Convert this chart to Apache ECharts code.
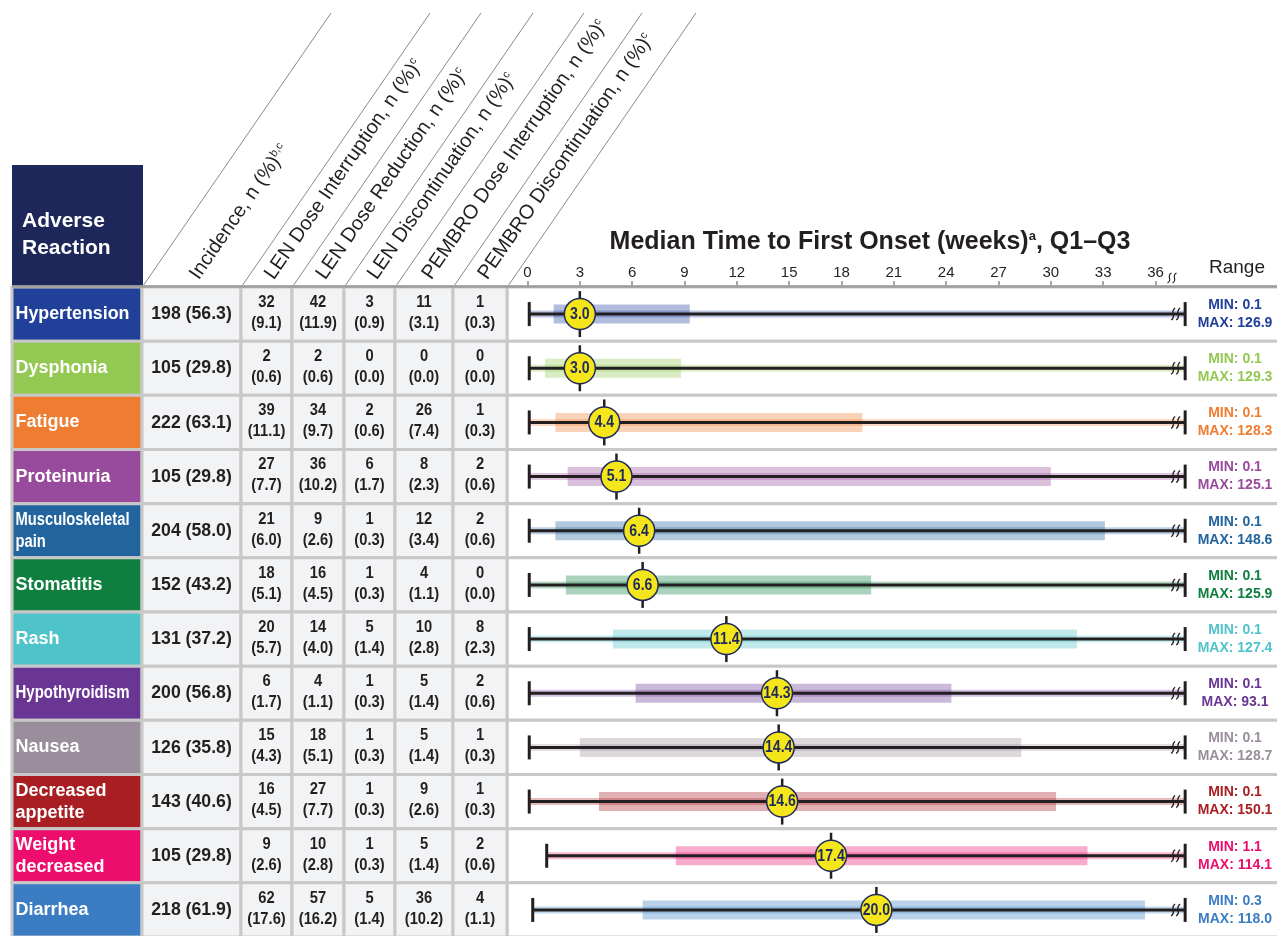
<!DOCTYPE html>
<html><head><meta charset="utf-8">
<script src="https://cdn.jsdelivr.net/npm/echarts@6/dist/echarts.min.js"></script>
<style>html,body{margin:0;padding:0;background:#fff}#c{width:1277px;height:936px}</style>
</head><body><div id="c"></div>
<script>
// ---------------- DATA ----------------
const categories = ['Hypertension','Dysphonia','Fatigue','Proteinuria','Musculoskeletal\npain','Stomatitis','Rash','Hypothyroidism','Nausea','Decreased\nappetite','Weight\ndecreased','Diarrhea'];
const incidenceN = [198,105,222,105,204,152,131,200,126,143,105,218];
const incidencePct = [56.3,29.8,63.1,29.8,58.0,43.2,37.2,56.8,35.8,40.6,29.8,61.9];
const lenInterruptN = [32,2,39,27,21,18,20,6,15,16,9,62];
const lenInterruptPct = [9.1,0.6,11.1,7.7,6.0,5.1,5.7,1.7,4.3,4.5,2.6,17.6];
const lenReductionN = [42,2,34,36,9,16,14,4,18,27,10,57];
const lenReductionPct = [11.9,0.6,9.7,10.2,2.6,4.5,4.0,1.1,5.1,7.7,2.8,16.2];
const lenDiscN = [3,0,2,6,1,1,5,1,1,1,1,5];
const lenDiscPct = [0.9,0.0,0.6,1.7,0.3,0.3,1.4,0.3,0.3,0.3,0.3,1.4];
const pembroInterruptN = [11,0,26,8,12,4,10,5,5,9,5,36];
const pembroInterruptPct = [3.1,0.0,7.4,2.3,3.4,1.1,2.8,1.4,1.4,2.6,1.4,10.2];
const pembroDiscN = [1,0,1,2,2,0,8,2,1,1,2,4];
const pembroDiscPct = [0.3,0.0,0.3,0.6,0.6,0.0,2.3,0.6,0.3,0.3,0.6,1.1];
const medianWeeks = [3.0,3.0,4.4,5.1,6.4,6.6,11.4,14.3,14.4,14.6,17.4,20.0];
const q1Weeks = [1.5,1.0,1.6,2.3,1.6,2.2,4.9,6.2,3.0,4.1,8.5,6.6];
const q3Weeks = [9.3,8.8,19.2,30.0,33.1,19.7,31.5,24.3,28.3,30.3,32.1,35.4];
const rangeMin = [0.1,0.1,0.1,0.1,0.1,0.1,0.1,0.1,0.1,0.1,1.1,0.3];
const rangeMax = [126.9,129.3,128.3,125.1,148.6,125.9,127.4,93.1,128.7,150.1,114.1,118.0];
const columnHeaders = ['Incidence, n (%)','LEN Dose Interruption, n (%)','LEN Dose Reduction, n (%)','LEN Discontinuation, n (%)','PEMBRO Dose Interruption, n (%)','PEMBRO Discontinuation, n (%)'];
const columnHeaderNotes = ['b,c','c','c','c','c','c'];
const axisMaxWeeks = 36;
const axisStepWeeks = 3;
const brokenAxisEnd = 37.7; // position on the broken axis where the range (max) is drawn

// ---------------- STYLE / LAYOUT ----------------
const FONT = "'Liberation Sans', Arial, Helvetica, sans-serif";
const rowColors = ['#21409a','#93c852','#ef7d31','#984a9c','#21649e','#0e7f3e','#4fc3ca','#6a3694','#9a8e9c','#a81e22','#ec0d6d','#3a7dc3'];
const COLS = [12, 142, 241, 292, 344, 395, 453, 507];
const INK = '#231f20';
const NAVY = '#1f2a5c';

const mctx = document.createElement('canvas').getContext('2d');
function fitScale(text, font, maxW) {
  mctx.font = font;
  const w = Math.max(...text.split('\n').map(s => mctx.measureText(s).width));
  return Math.min(1, maxW / w);
}
function rgba(hex, a) {
  const n = parseInt(hex.slice(1), 16);
  return `rgba(${(n >> 16) & 255},${(n >> 8) & 255},${n & 255},${a})`;
}
function txt(x, y, text, o) {
  return Object.assign({ type: 'text', x: x, y: y, style: Object.assign({
    text: text, fill: INK, fontFamily: FONT, align: 'center', verticalAlign: 'middle',
    textAlign: 'center', textVerticalAlign: 'middle'
  }, o.style || {}) }, o.el || {});
}

const cellCols = [
  [lenInterruptN, lenInterruptPct],
  [lenReductionN, lenReductionPct],
  [lenDiscN, lenDiscPct],
  [pembroInterruptN, pembroInterruptPct],
  [pembroDiscN, pembroDiscPct]
];

function renderTable(params, api) {
  const i = params.dataIndex;
  const cy = api.coord([0, i])[1];
  const band = api.size([0, 1])[1];
  const top = cy - band / 2;
  const ch = [];
  const border = { stroke: '#c8c8c8', lineWidth: 3 };
  ch.push({ type: 'rect', shape: { x: COLS[7], y: top, width: 1290 - COLS[7], height: band }, style: Object.assign({ fill: '#ffffff' }, border) });
  ch.push({ type: 'rect', shape: { x: COLS[0], y: top, width: COLS[1] - COLS[0], height: band }, style: Object.assign({ fill: rowColors[i] }, border) });
  for (let j = 1; j < 7; j++) {
    ch.push({ type: 'rect', shape: { x: COLS[j], y: top, width: COLS[j + 1] - COLS[j], height: band }, style: Object.assign({ fill: '#f2f3f5' }, border) });
  }
  const lf = `bold 18px ${FONT}`;
  const ls = fitScale(categories[i], lf, 114);
  ch.push(txt(COLS[0] + 3.5, cy, categories[i], {
    style: { fill: '#ffffff', fontSize: 18, fontWeight: 'bold', lineHeight: 22, align: 'left', textAlign: 'left' },
    el: { scaleX: ls }
  }));
  ch.push(txt((COLS[1] + COLS[2]) / 2, cy, `${incidenceN[i]} (${incidencePct[i].toFixed(1)})`, {
    style: { fontSize: 19, fontWeight: 'bold' }, el: { scaleX: 0.93 }
  }));
  cellCols.forEach((c, k) => {
    const j = k + 2;
    ch.push(txt((COLS[j] + COLS[j + 1]) / 2, cy - 1, `${c[0][i]}\n(${c[1][i].toFixed(1)})`, {
      style: { fontSize: 16, fontWeight: 'bold', lineHeight: 21 }, el: { scaleX: 0.92 }
    }));
  });
  ch.push(txt(1235, cy, `MIN: ${rangeMin[i].toFixed(1)}\nMAX: ${rangeMax[i].toFixed(1)}`, {
    style: { fontSize: 14, fontWeight: 'bold', lineHeight: 18, fill: rowColors[i] }
  }));
  return { type: 'group', children: ch };
}

function breakMark(x, cy, h, lw) {
  const out = [];
  for (let k = 0; k < 2; k++) {
    const bx = x + k * 5;
    out.push({ type: 'bezierCurve', shape: {
      x1: bx + 2, y1: cy - h / 2, x2: bx - 2, y2: cy + h / 2,
      cpx1: bx - 4, cpy1: cy - h / 6, cpx2: bx + 4, cpy2: cy + h / 6
    }, style: { stroke: INK, lineWidth: lw, fill: null } });
  }
  return out;
}

function renderRange(params, api) {
  const i = params.dataIndex;
  const cy = api.coord([0, i])[1];
  const band = api.size([0, 1])[1];
  const x0 = api.coord([rangeMin[i], i])[0];
  const xE = api.coord([brokenAxisEnd, i])[0];
  const xq1 = api.coord([q1Weeks[i], i])[0];
  const xq3 = api.coord([q3Weeks[i], i])[0];
  const xm = api.coord([medianWeeks[i], i])[0];
  const col = rowColors[i];
  const ch = [
    { type: 'line', shape: { x1: x0, y1: cy, x2: xE, y2: cy }, style: { stroke: rgba(col, 0.3), lineWidth: 7 } },
    { type: 'rect', shape: { x: xq1, y: cy - 9.5, width: xq3 - xq1, height: 19 }, style: { fill: rgba(col, 0.35) } },
    { type: 'line', shape: { x1: x0, y1: cy, x2: xE, y2: cy }, style: { stroke: INK, lineWidth: 3 } },
    { type: 'line', shape: { x1: x0, y1: cy - 12, x2: x0, y2: cy + 12 }, style: { stroke: INK, lineWidth: 3 } },
    { type: 'line', shape: { x1: xE, y1: cy - 12, x2: xE, y2: cy + 12 }, style: { stroke: INK, lineWidth: 3 } },
    { type: 'line', shape: { x1: xm, y1: cy - 23, x2: xm, y2: cy + 23 }, style: { stroke: INK, lineWidth: 2.5 } }
  ].concat(breakMark(xE - 12, cy, 12, 1.3));
  if (i === 0) {
    const xa = api.coord([axisMaxWeeks, i])[0];
    ch.push.apply(ch, breakMark(xa + 14, cy - band / 2 - 9, 10, 1.1));
  }
  return { type: 'group', children: ch };
}

function renderMedianLabel(params, api) {
  const i = params.dataIndex;
  const p = api.coord([medianWeeks[i], i]);
  return txt(p[0], p[1] + 0.5, medianWeeks[i].toFixed(1), {
    style: { fontSize: 16, fontWeight: 'bold', fill: NAVY }, el: { scaleX: 0.88 }
  });
}

// ---------------- HEADER GRAPHICS ----------------
const ANG = Math.atan2(273, 188);
const graphics = [
  { type: 'rect', shape: { x: 12, y: 165, width: 131, height: 121 }, style: { fill: '#1e2759' } },
  { type: 'text', x: 22, y: 235, style: { text: 'Adverse\nReaction', fill: '#ffffff', fontSize: 21, fontWeight: 'bold', fontFamily: FONT, lineHeight: 27, align: 'left', verticalAlign: 'middle' } },
  { type: 'text', x: 870, y: 242, style: {
      text: 'Median Time to First Onset (weeks){sup|a}, Q1–Q3', fill: INK, fontSize: 25, fontWeight: 'bold', fontFamily: FONT,
      align: 'center', verticalAlign: 'middle',
      rich: { sup: { fontSize: 13, fontWeight: 'bold', fontFamily: FONT, fill: INK, verticalAlign: 'top' } } } },
  { type: 'text', x: 1237, y: 268, style: { text: 'Range', fill: INK, fontSize: 19, fontFamily: FONT, align: 'center', verticalAlign: 'middle' } }
];
for (let j = 1; j < COLS.length; j++) {
  graphics.push({ type: 'line', shape: { x1: COLS[j] + 1, y1: 286, x2: COLS[j] + 189, y2: 13 }, style: { stroke: '#8a8a8a', lineWidth: 1 } });
}
columnHeaders.forEach((h, k) => {
  const j = k + 1;
  graphics.push({ type: 'text', x: (COLS[j] + COLS[j + 1]) / 2 + 11, y: 283, rotation: ANG, style: {
    text: `${h}{sup|${columnHeaderNotes[k]}}`, fill: INK, fontSize: 20, fontFamily: FONT, align: 'left', verticalAlign: 'bottom',
    rich: { sup: { fontSize: 11, fontFamily: FONT, fill: INK, verticalAlign: 'top' } } } });
});
graphics.push({ type: 'line', z: 100, shape: { x1: 12, y1: 286.5, x2: 1277, y2: 286.5 }, style: { stroke: '#9d9d9d', lineWidth: 2.5 } });

// ---------------- CHART ----------------
const chart = echarts.init(document.getElementById('c'), null, { renderer: 'canvas' });
const rowData = categories.map((c, i) => [0, i]);
chart.setOption({
  animation: false,
  grid: { left: 527.5, top: 287, width: 628, height: 650, containLabel: false, outerBoundsMode: 'none' },
  xAxis: {
    type: 'value', position: 'top', min: 0, max: axisMaxWeeks, interval: axisStepWeeks,
    axisLine: { show: false },
    axisTick: { show: true, length: 6, lineStyle: { color: '#8c8c8c', width: 1.5 } },
    axisLabel: { fontSize: 15, color: INK, margin: 7, fontFamily: FONT },
    splitLine: { show: false }
  },
  yAxis: { type: 'category', data: categories, inverse: true, show: false },
  graphic: graphics,
  series: [
    { type: 'custom', name: 'table', data: rowData, renderItem: renderTable, clip: false, silent: true, z: 1 },
    { type: 'custom', name: 'range', data: rowData, renderItem: renderRange, clip: false, silent: true, z: 2 },
    { type: 'scatter', name: 'median', data: medianWeeks.map((m, i) => [m, i]), symbol: 'circle', symbolSize: 31, silent: true, z: 3,
      itemStyle: { color: '#f4e61a', borderColor: NAVY, borderWidth: 1.5, opacity: 1 }, label: { show: false } },
    { type: 'custom', name: 'medianLabel', data: medianWeeks.map((m, i) => [m, i]), renderItem: renderMedianLabel, clip: false, silent: true, z: 4 }
  ]
});
</script>
</body></html>
